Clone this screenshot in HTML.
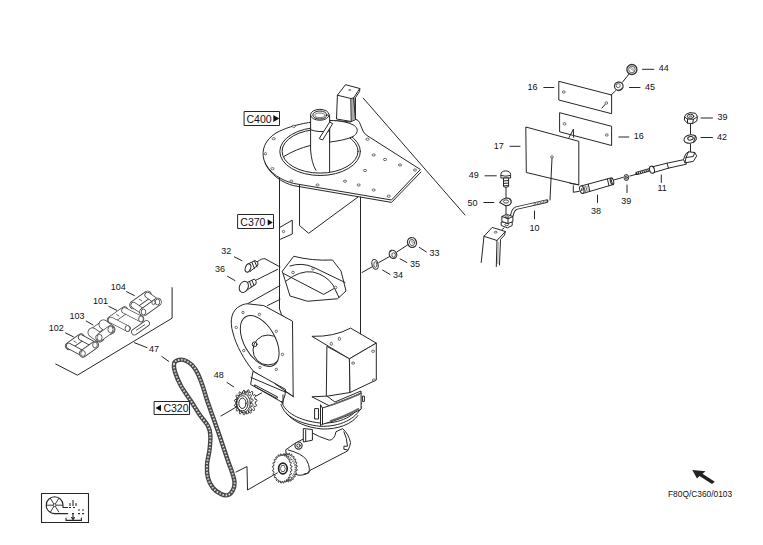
<!DOCTYPE html>
<html><head><meta charset="utf-8">
<style>
html,body{margin:0;padding:0;background:#fff;}
svg{display:block;}
text{font-family:"Liberation Sans",sans-serif;fill:#111;}
.l{fill:none;stroke:#262626;stroke-width:1;stroke-linejoin:round;stroke-linecap:round;}
.w{fill:#fff;stroke:#262626;stroke-width:1;stroke-linejoin:round;}
.h{fill:#fff;stroke:#333;stroke-width:0.7;}
.n{font-size:9.2px;}
</style></head><body>
<svg width="763" height="545" viewBox="0 0 763 545">
<!-- ===== TOWER ===== -->
<g id="tower">
<!-- body lines -->
<path class="l" d="M279.5,178 L279.5,309 Q280.5,315 284.5,317.5"/>
<path class="l" d="M299.5,184 L299.5,225.5 L308.7,233.3 L358,197"/>
<!-- flange -->
<path class="w" d="M264,160 C261,150 265,140 276,133 C292,124 322,118 350,122 L355.5,119.3 Q358.5,119.8 359.5,122.5 L363,131 Q364.5,134 367,135.5 L420.4,169.5 L391.5,200 L293.4,183.4 C283,181 268,173 264,160 Z"/>
<path class="l" d="M265,163 C270,175 283,183 293.4,185.6 L391.5,202.4 L421,172"/>
<!-- holes -->
<g class="h">
<ellipse cx="293.7" cy="126.3" rx="1.6" ry="1.1"/>
<ellipse cx="273.7" cy="138.7" rx="1.6" ry="1.1"/>
<ellipse cx="265.5" cy="153.7" rx="1.2" ry="1.1"/>
<ellipse cx="272.5" cy="168.7" rx="1.6" ry="1.1"/>
<ellipse cx="291.3" cy="181.2" rx="1.6" ry="1.1"/>
<ellipse cx="317.5" cy="185" rx="1.6" ry="1.1"/>
<ellipse cx="345" cy="181.2" rx="1.6" ry="1.1"/>
<ellipse cx="358.7" cy="185" rx="1.6" ry="1.1"/>
<ellipse cx="373.7" cy="190" rx="1.6" ry="1.1"/>
<ellipse cx="388.7" cy="196.2" rx="1.6" ry="1.1"/>
<ellipse cx="367.5" cy="139.2" rx="1.6" ry="1.1"/>
<ellipse cx="373.7" cy="155" rx="1.6" ry="1.1"/>
<ellipse cx="385" cy="159.5" rx="1.6" ry="1.1"/>
<ellipse cx="400" cy="165" rx="1.6" ry="1.1"/>
<ellipse cx="415" cy="170" rx="1.6" ry="1.1"/>
<ellipse cx="365" cy="170.5" rx="1.6" ry="1.1"/>
</g>
<!-- ring -->
<ellipse class="l" cx="320.1" cy="151.5" rx="40.3" ry="24"/>
<ellipse class="l" cx="320.1" cy="151.3" rx="38" ry="21.8"/>
<path class="l" d="M283.8,156.5 Q296,149 310.6,145.4"/>
<path class="w" d="M329.6,120.5 C340,120.5 351,122.5 355.5,126.5 C358.5,129.5 357.5,134 353,136.5 C347,139.5 338,141 329.6,142.1 Z"/>
<!-- pipe -->
<rect x="311" y="115" width="18.4" height="55" fill="#fff"/>
<path class="l" d="M310.6,115 L310.6,150 Q311.5,163 315.9,170.3"/>
<path class="l" d="M329.6,115 L329.6,171.6"/>
<path class="l" d="M310.6,129.7 Q318,132.8 329.6,131"/>
<ellipse class="w" cx="319.8" cy="114.8" rx="9.25" ry="5.45"/>
<ellipse class="l" cx="319.9" cy="115" rx="7.1" ry="4"/>
<ellipse class="l" cx="320" cy="115.3" rx="5.2" ry="2.3" style="stroke:#777"/>
<polygon class="w" points="319.2,138.6 322.6,140 332.7,123.5 329.7,122"/>
<!-- bracket -->
<path class="w" d="M337.4,95.2 L345.5,84.7 L359.8,88.5 L359.6,91.5 L355.5,97.5 L355.5,119.5 L351.2,121.5 L336.5,119 Z"/>
<path d="M351.3,99 L355,97.8 L355.2,119.2 L351.6,121 Z" fill="#aaa"/>
<path class="l" d="M337.4,95.2 L350.8,98.5 L353.6,98 L359.8,88.5 M350.8,98.5 L351.2,121.5 M353.6,98 L355.5,119.5"/>
<ellipse cx="349.8" cy="90" rx="1.5" ry="1.1" fill="#888"/>
<!-- long diagonal -->
<path class="l" d="M363.3,98.2 L465,215"/>
<!-- C400 -->
<rect class="l" x="244.5" y="111.5" width="35" height="14" style="stroke-width:1"/>
<text transform="translate(246.5 122.5) scale(0.9 1)" style="font-size:11.7px">C400</text>
<polygon points="273.3,115 279.3,118.5 273.3,122" fill="#111"/>
<!-- C370 -->
<rect class="l" x="238" y="214.5" width="35.5" height="14" style="stroke-width:1"/>
<text transform="translate(240.3 226.1) scale(0.9 1)" style="font-size:11.7px">C370</text>
<polygon points="267.7,219.2 272.8,222.4 267.7,225.6" fill="#111"/>
<!-- small plate -->
<path class="l" d="M279.8,227.4 L292.3,220.2 L292.3,234 L280.5,239.2"/>
<ellipse class="h" cx="283.5" cy="231.5" rx="1.2" ry="1.2"/>
<!-- window -->
<path class="l" d="M282.5,271 L293.75,256.25 Q312,261 332.5,260 L341,271 L346,291 L337.5,298.75 L307.5,301.25 L290,296 L285,280 Z"/>
<path class="l" d="M283.5,273.5 L323.7,294.4 L333.7,288.7"/>
<path class="l" d="M290,266 Q302,262 314,267.5 L345,282.5"/>
<path class="l" d="M286,281 Q300,270 313,272 Q326,275 333,285 L339,297.5"/>
<g class="h"><circle cx="293" cy="272.5" r="1.3"/><circle cx="313" cy="268.7" r="1.3"/><circle cx="335.6" cy="287.5" r="1.3"/></g>
</g>

<!-- ===== HOUSING (left) ===== -->
<g id="housing">
<path class="l" d="M247.5,303.8 L280,285.6 M267.5,305.6 L280,299.4"/>
<path class="w" d="M247.5,303.8 L263.8,305.6 L292.5,321.2 L293.2,396.5 L253.5,371.3 C244,360 236,345 233,333 C229,320 232,310 240,306 C243,304.5 245,303.8 247.5,303.8 Z"/>
<clipPath id="hclip"><ellipse cx="259.7" cy="341" rx="28" ry="15.5" transform="rotate(60 259.7 341)"/></clipPath>
<ellipse class="l" cx="259.7" cy="341" rx="28" ry="15.5" transform="rotate(60 259.7 341)"/>
<circle class="l" cx="268" cy="350" r="15" clip-path="url(#hclip)"/>
<circle class="l" cx="254.6" cy="344.3" r="2.4"/>
<g class="h">
<circle cx="243" cy="312.5" r="1.2"/><circle cx="259.4" cy="314.4" r="1.2"/><circle cx="236.3" cy="327.5" r="1.2"/>
<circle cx="276.3" cy="331.3" r="1.2"/><circle cx="243.8" cy="350.6" r="1.2"/><circle cx="282.5" cy="354.4" r="1.2"/>
<circle cx="260" cy="367.5" r="1.2"/><circle cx="276.3" cy="369.4" r="1.2"/>
</g>
<!-- bracket under housing -->
<path class="w" d="M253,371.3 L285.6,389.4 L285,395 L282.5,402.5 L250.6,384.4 Z"/>
<path class="l" d="M251,377.5 L285,391.9"/>
<path class="l" d="M255,385 L277.5,396.9 L277,398.5 L254.5,386.5 Z"/>
<path class="l" d="M283,395 L283,403.8"/>
</g>
<!-- ===== CHUTE BOX (right) ===== -->
<g id="chute">
<path class="w" d="M311.9,336.3 Q334,337 350.6,328.1 L376.3,343.1 L349.4,358.8 Z"/>
<path class="w" d="M326.9,346.3 L349.4,358.8 L350,392.5 L326.3,396.3 Z"/>
<path class="w" d="M349.4,358.8 L376.3,343.1 L376.3,380 L350,392.5 Z"/>
<path class="l" d="M360.5,197 L360.5,333.8"/>
<g class="h">
<ellipse cx="339.4" cy="338.8" rx="1.1" ry="1.6"/><ellipse cx="331.3" cy="343.8" rx="1.1" ry="1.6"/>
<ellipse cx="353.1" cy="363.1" rx="1.5" ry="1.1"/><ellipse cx="373.1" cy="351.3" rx="1.5" ry="1.1"/>
<ellipse cx="373.8" cy="380" rx="1.5" ry="1.1"/>
</g>
</g>
<!-- ===== BOWL ===== -->
<g id="bowl">
<path class="l" d="M281.5,401.5 C285,413 299,420.5 320,423 C340,424 356,416 361.5,403"/>
<path class="l" d="M281,404.5 C285,417 300,424 320,426.3 C340,427 356,419 361.5,407"/>
<path class="l" d="M286,413 C294,422.5 307,427.5 322,429 C338,429.5 352,424 358,415.5"/>
<path class="w" d="M311.9,396.8 L327,396.1 L334.9,402 L361,391 L361,393.5 L329.7,406 Z"/>
<path class="l" d="M293.8,396.9 L275,383.8"/>
<path class="w" d="M320.5,404.7 L322.5,408 Q345,401 361.1,392.9 L361.1,409.2 Q345,418 322.5,424.3 L320.5,425.6 Z"/>
<path class="l" d="M322.5,408 L322.5,424.3"/>
<path d="M330,405.5 Q346,400 360,394" fill="none" stroke="#666" stroke-width="1.6"/>
<path d="M330,421 Q346,416 359,408.5" fill="none" stroke="#666" stroke-width="1.8"/>
<rect class="w" x="314.6" y="408.6" width="3.9" height="10.4"/>
<rect class="w" x="362.4" y="396.1" width="2" height="5.3"/>
</g>
<!-- ===== GEARBOX ===== -->
<g id="gearbox">
<path class="w" d="M285.7,449.9 L294.2,443.8 L303.3,439 L312.4,433 Q318,436.5 329.3,440.2 Q334.5,440 336,431.7 L342.7,428.7 Q348.7,434 350.5,442.6 Q350,447 348.1,449.9 L347.5,451 L310,470.4 Q308,475 299,475.3 L288,472 Z"/>
<path class="w" d="M303.3,428.5 L312.4,429.5 L312.4,440.2 L303.3,442 Z"/>
<path class="l" d="M305.7,430 L305.7,441.5"/>
<path class="l" d="M288.2,449.9 Q301.5,453.5 306.3,459.5 Q309.4,465 309.4,469.2 L308.8,472.9 L303.9,474.1"/>
<path class="l" d="M343.9,431.7 Q347,438 347.5,446.2 L343.9,446.2 L343.9,449.3 L347.8,450"/>
<circle cx="298.5" cy="445.6" r="3.6" fill="#fff" stroke="#333" stroke-width="1.2"/><circle class="l" cx="298.5" cy="445.6" r="1.7"/>
</g>


<!-- ===== SPROCKETS ===== -->
<g id="sprockets">
<path class="w" d="M255.22,402.98 L255.14,403.64 C257.52,404.79 256.92,407.00 254.46,406.16 L254.02,407.12 L253.72,407.67 C255.46,409.98 254.15,411.66 252.23,409.57 L251.49,410.21 L251.03,410.54 C251.78,413.56 250.01,414.36 249.01,411.45 L248.13,411.63 L247.60,411.67 C247.22,414.80 245.34,414.57 245.46,411.41 L244.61,411.10 L244.11,410.85 C242.67,413.47 241.06,412.26 242.28,409.48 L241.61,408.73 L241.25,408.24 C239.04,409.83 238.02,407.87 240.08,406.02 L239.75,404.99 L239.59,404.35 C237.05,404.59 236.81,402.28 239.32,401.72 L239.38,400.62 L239.46,399.96 C237.08,398.81 237.68,396.60 240.14,397.44 L240.58,396.48 L240.88,395.93 C239.14,393.62 240.45,391.94 242.37,394.03 L243.11,393.39 L243.57,393.06 C242.82,390.04 244.59,389.24 245.59,392.15 L246.47,391.97 L247.00,391.93 C247.38,388.80 249.26,389.03 249.14,392.19 L249.99,392.50 L250.49,392.75 C251.93,390.13 253.54,391.34 252.32,394.12 L252.99,394.87 L253.35,395.36 C255.56,393.77 256.58,395.73 254.52,397.58 L254.85,398.61 L255.01,399.25 C257.55,399.01 257.79,401.32 255.28,401.88 L255.22,402.98 Z"/>
<path class="w" d="M251.63,402.80 L251.61,403.46 C254.04,404.26 253.66,406.54 251.19,406.06 L250.85,407.09 L250.61,407.68 C252.52,409.72 251.40,411.57 249.34,409.79 L248.68,410.52 L248.26,410.92 C249.28,413.81 247.63,414.87 246.39,412.13 L245.54,412.43 L245.02,412.56 C244.95,415.72 243.11,415.77 242.92,412.62 L242.06,412.43 L241.55,412.26 C240.40,415.07 238.72,414.11 239.64,411.17 L238.92,410.52 L238.52,410.09 C236.52,411.99 235.33,410.20 237.17,408.06 L236.75,407.09 L236.53,406.48 C234.08,407.09 233.63,404.83 236.02,403.91 L235.97,402.80 L235.99,402.14 C233.56,401.34 233.94,399.06 236.41,399.54 L236.75,398.51 L236.99,397.92 C235.08,395.88 236.20,394.03 238.26,395.81 L238.92,395.08 L239.34,394.68 C238.32,391.79 239.97,390.73 241.21,393.47 L242.06,393.17 L242.58,393.04 C242.65,389.88 244.49,389.83 244.68,392.98 L245.54,393.17 L246.05,393.34 C247.20,390.53 248.88,391.49 247.96,394.43 L248.68,395.08 L249.08,395.51 C251.08,393.61 252.27,395.40 250.43,397.54 L250.85,398.51 L251.07,399.12 C253.52,398.51 253.97,400.77 251.58,401.69 L251.63,402.80 Z"/>
<ellipse class="l" cx="243.3" cy="403" rx="7" ry="9.3"/>
<ellipse class="w" cx="242.4" cy="403.3" rx="5.6" ry="7.6"/>
<ellipse class="l" cx="242.4" cy="403.3" rx="3.6" ry="5.2"/>
<path class="l" d="M221,416 L237,406.6 M256,396 L261.6,393"/>
<path class="w" d="M296.14,468.27 L296.11,468.77 C297.72,469.40 297.53,470.97 295.87,470.74 L295.71,471.54 L295.59,472.01 C297.04,473.24 296.58,474.68 295.02,473.82 L294.72,474.54 L294.53,474.95 C295.71,476.69 295.01,477.90 293.65,476.48 L293.24,477.05 L292.98,477.38 C293.81,479.51 292.93,480.42 291.87,478.52 L291.37,478.92 L291.06,479.14 C291.49,481.51 290.48,482.05 289.78,479.81 L289.23,480.01 L288.90,480.10 C288.90,482.56 287.83,482.69 287.55,480.27 L286.98,480.25 L286.64,480.21 C286.21,482.58 285.15,482.30 285.31,479.85 L284.76,479.61 L284.44,479.44 C283.61,481.57 282.63,480.90 283.21,478.59 L282.73,478.15 L282.45,477.87 C281.27,479.61 280.45,478.58 281.42,476.58 L281.03,475.97 L280.81,475.59 C279.36,476.82 278.75,475.51 280.03,473.94 L279.76,473.21 L279.62,472.76 C278.01,473.39 277.64,471.90 279.16,470.87 L279.02,470.06 L278.96,469.57 C277.30,469.57 277.21,467.98 278.85,467.57 L278.86,466.73 L278.89,466.23 C277.28,465.60 277.47,464.03 279.13,464.26 L279.29,463.46 L279.41,462.99 C277.96,461.76 278.42,460.32 279.98,461.18 L280.28,460.46 L280.47,460.05 C279.29,458.31 279.99,457.10 281.35,458.52 L281.76,457.95 L282.02,457.62 C281.19,455.49 282.07,454.58 283.13,456.48 L283.63,456.08 L283.94,455.86 C283.51,453.49 284.52,452.95 285.22,455.19 L285.77,454.99 L286.10,454.90 C286.10,452.44 287.17,452.31 287.45,454.73 L288.02,454.75 L288.36,454.79 C288.79,452.42 289.85,452.70 289.69,455.15 L290.24,455.39 L290.56,455.56 C291.39,453.43 292.37,454.10 291.79,456.41 L292.27,456.85 L292.55,457.13 C293.73,455.39 294.55,456.42 293.58,458.42 L293.97,459.03 L294.19,459.41 C295.64,458.18 296.25,459.49 294.97,461.06 L295.24,461.79 L295.38,462.24 C296.99,461.61 297.36,463.10 295.84,464.13 L295.98,464.94 L296.04,465.43 C297.70,465.43 297.79,467.02 296.15,467.43 L296.14,468.27 Z"/>
<path d="M286,455 Q294,459 295.5,468 Q294,478 287,481" fill="none" stroke="#666" stroke-width="1.6" stroke-dasharray="1.2 1"/>
<path class="w" d="M290.85,468.50 L290.85,469.01 C292.48,469.51 292.35,471.12 290.69,471.04 L290.56,471.87 L290.46,472.36 C291.95,473.48 291.55,474.99 289.96,474.26 L289.69,475.01 L289.52,475.45 C290.76,477.11 290.12,478.41 288.70,477.08 L288.32,477.71 L288.07,478.06 C288.99,480.15 288.14,481.16 287.01,479.33 L286.53,479.78 L286.23,480.02 C286.76,482.40 285.77,483.04 284.98,480.83 L284.44,481.08 L284.11,481.20 C284.21,483.70 283.14,483.93 282.77,481.49 L282.20,481.52 L281.86,481.51 C281.53,483.97 280.46,483.78 280.51,481.27 L279.96,481.08 L279.63,480.93 C278.89,483.18 277.89,482.58 278.37,480.18 L277.87,479.78 L277.58,479.51 C276.48,481.39 275.61,480.42 276.50,478.29 L276.08,477.71 L275.85,477.34 C274.46,478.72 273.79,477.45 275.01,475.73 L274.71,475.01 L274.54,474.56 C272.96,475.36 272.54,473.86 274.01,472.69 L273.84,471.87 L273.76,471.37 C272.10,471.52 271.94,469.92 273.57,469.35 L273.55,468.50 L273.55,467.99 C271.92,467.49 272.05,465.88 273.71,465.96 L273.84,465.13 L273.94,464.64 C272.45,463.52 272.85,462.01 274.44,462.74 L274.71,461.99 L274.88,461.55 C273.64,459.89 274.28,458.59 275.70,459.92 L276.08,459.29 L276.33,458.94 C275.41,456.85 276.26,455.84 277.39,457.67 L277.87,457.22 L278.17,456.98 C277.64,454.60 278.63,453.96 279.42,456.17 L279.96,455.92 L280.29,455.80 C280.19,453.30 281.26,453.07 281.63,455.51 L282.20,455.48 L282.54,455.49 C282.87,453.03 283.94,453.22 283.89,455.73 L284.44,455.92 L284.77,456.07 C285.51,453.82 286.51,454.42 286.03,456.82 L286.53,457.22 L286.82,457.49 C287.92,455.61 288.79,456.58 287.90,458.71 L288.32,459.29 L288.55,459.66 C289.94,458.28 290.61,459.55 289.39,461.27 L289.69,461.99 L289.86,462.44 C291.44,461.64 291.86,463.14 290.39,464.31 L290.56,465.13 L290.64,465.63 C292.30,465.48 292.46,467.08 290.83,467.65 L290.85,468.50 Z"/>
<ellipse cx="282.9" cy="468.5" rx="4.3" ry="5.4" fill="#fff" stroke="#222" stroke-width="1.7"/>
<path d="M281.5,465.5 L284.2,465.5 L285.3,468.5 L284.2,471.5 L281.5,471.5 L280.4,468.5 Z" fill="none" stroke="#555" stroke-width="0.9"/>
</g>
<!-- ===== CHAIN ===== -->
<g id="chain">
<path d="M174,364 C173.7,365.9 173.8,368.3 175,372 C176.2,375.7 178.2,381.0 181,386 C183.8,391.0 188.5,397.2 191.6,402 C194.7,406.8 197.0,410.7 199.7,414.7 C202.4,418.7 206.2,422.6 208,426 C209.8,429.4 210.1,431.0 210.3,435 C210.6,439.0 210.1,445.0 209.5,450 C208.9,455.0 207.2,460.3 207,465 C206.8,469.7 207.0,474.2 208,478 C209.0,481.8 210.8,485.3 213,488 C215.2,490.7 218.5,492.8 221,494 C223.5,495.2 226.0,495.7 228,495 C230.0,494.3 231.9,492.2 233,490 C234.1,487.8 234.7,485.0 234.5,482 C234.3,479.0 233.1,475.5 232,472 C230.9,468.5 229.8,466.3 228,461 C226.2,455.7 222.9,445.6 221,440 C219.1,434.4 218.1,431.4 216.6,427.2 C215.1,423.0 213.8,419.2 212.2,414.7 C210.6,410.2 208.5,404.6 207,400 C205.5,395.4 204.5,391.3 203,387 C201.5,382.7 199.8,377.7 198,374 C196.2,370.3 194.3,367.3 192,365 C189.7,362.7 186.5,360.8 184,360 C181.5,359.2 178.7,359.8 177,360.5 C175.3,361.2 174.3,362.1 174,364 Z" fill="none" stroke="#444" stroke-width="4.4"/>
<path d="M174,364 C173.7,365.9 173.8,368.3 175,372 C176.2,375.7 178.2,381.0 181,386 C183.8,391.0 188.5,397.2 191.6,402 C194.7,406.8 197.0,410.7 199.7,414.7 C202.4,418.7 206.2,422.6 208,426 C209.8,429.4 210.1,431.0 210.3,435 C210.6,439.0 210.1,445.0 209.5,450 C208.9,455.0 207.2,460.3 207,465 C206.8,469.7 207.0,474.2 208,478 C209.0,481.8 210.8,485.3 213,488 C215.2,490.7 218.5,492.8 221,494 C223.5,495.2 226.0,495.7 228,495 C230.0,494.3 231.9,492.2 233,490 C234.1,487.8 234.7,485.0 234.5,482 C234.3,479.0 233.1,475.5 232,472 C230.9,468.5 229.8,466.3 228,461 C226.2,455.7 222.9,445.6 221,440 C219.1,434.4 218.1,431.4 216.6,427.2 C215.1,423.0 213.8,419.2 212.2,414.7 C210.6,410.2 208.5,404.6 207,400 C205.5,395.4 204.5,391.3 203,387 C201.5,382.7 199.8,377.7 198,374 C196.2,370.3 194.3,367.3 192,365 C189.7,362.7 186.5,360.8 184,360 C181.5,359.2 178.7,359.8 177,360.5 C175.3,361.2 174.3,362.1 174,364 Z" fill="none" stroke="#fff" stroke-width="1.8" stroke-dasharray="1.4 1.8"/>
<path d="M174,364 C173.7,365.9 173.8,368.3 175,372 C176.2,375.7 178.2,381.0 181,386 C183.8,391.0 188.5,397.2 191.6,402 C194.7,406.8 197.0,410.7 199.7,414.7 C202.4,418.7 206.2,422.6 208,426 C209.8,429.4 210.1,431.0 210.3,435 C210.6,439.0 210.1,445.0 209.5,450 C208.9,455.0 207.2,460.3 207,465 C206.8,469.7 207.0,474.2 208,478 C209.0,481.8 210.8,485.3 213,488 C215.2,490.7 218.5,492.8 221,494 C223.5,495.2 226.0,495.7 228,495 C230.0,494.3 231.9,492.2 233,490 C234.1,487.8 234.7,485.0 234.5,482 C234.3,479.0 233.1,475.5 232,472 C230.9,468.5 229.8,466.3 228,461 C226.2,455.7 222.9,445.6 221,440 C219.1,434.4 218.1,431.4 216.6,427.2 C215.1,423.0 213.8,419.2 212.2,414.7 C210.6,410.2 208.5,404.6 207,400 C205.5,395.4 204.5,391.3 203,387 C201.5,382.7 199.8,377.7 198,374 C196.2,370.3 194.3,367.3 192,365 C189.7,362.7 186.5,360.8 184,360 C181.5,359.2 178.7,359.8 177,360.5 C175.3,361.2 174.3,362.1 174,364 Z" fill="none" stroke="#888" stroke-width="0.5"/>
</g>
<!-- leader zigzag -->
<path class="l" d="M236,472 L247,466.5 L247.5,490 L277.3,472.9"/>
<!-- ===== BOLTS 32/36 ===== -->
<g id="bolts">
<path class="l" d="M257,262 Q262,258 265,258.8 L280,266.9"/>
<path class="w" d="M248,264 L255,260.5 Q259,262 258,265 L250,271.5 Z"/>
<path class="l" d="M252,262.5 L254.5,268.5 M254.5,261 L257,267"/>
<ellipse class="w" cx="248" cy="268" rx="2.6" ry="4.3" transform="rotate(20 248 268)"/>
<path class="l" d="M256.3,280 L277.5,269.4"/>
<path class="w" d="M245,283.5 L254.5,279 Q257,281.5 256,284 L247,290 Z"/>
<path class="l" d="M249.5,281.5 L251.5,287 M252,280.5 L254,285.5"/>
<ellipse class="w" cx="243.8" cy="286.9" rx="4.3" ry="5.8" transform="rotate(25 243.8 286.9)"/>
</g>
<!-- ===== 33/34/35 ===== -->
<g id="nuts33">
<path class="l" d="M362,272.5 L371.9,266.9 M378.8,262.5 L390,256.3 M396.9,251.9 L407.5,245"/>
<ellipse cx="412" cy="242.5" rx="4.4" ry="5" transform="rotate(-20 412 242.5)" fill="#fff" stroke="#333" stroke-width="1.3"/>
<ellipse cx="412" cy="242.5" rx="2.6" ry="3.1" transform="rotate(-20 412 242.5)" fill="none" stroke="#555" stroke-width="0.9"/>
<path d="M410.5,240.5 L413.5,244.5 M411.5,239.8 L414.2,243.2" stroke="#777" stroke-width="0.7"/>
<ellipse cx="393" cy="254.4" rx="3.6" ry="4.2" transform="rotate(-30 393 254.4)" fill="#fff" stroke="#333" stroke-width="1.2"/>
<ellipse cx="393.6" cy="255" rx="1.8" ry="2.2" fill="none" stroke="#444" stroke-width="0.9"/>
<path d="M389.5,251.5 L392,250" stroke="#333" stroke-width="1.2"/>
<ellipse cx="375" cy="264.4" rx="3" ry="5" transform="rotate(-15 375 264.4)" fill="#fff" stroke="#333" stroke-width="1.1"/>
<ellipse cx="375.3" cy="264.6" rx="1.5" ry="2.8" fill="none" stroke="#444" stroke-width="0.9"/>
</g>


<!-- ===== LABELS (tower area) ===== -->
<g class="n">
<text transform="translate(221.2 253.8) scale(0.98 1)">32</text>
<text transform="translate(215 272.3) scale(0.98 1)">36</text>
<text transform="translate(429.4 256.3) scale(0.98 1)">33</text>
<text transform="translate(410 266.5) scale(0.98 1)">35</text>
<text transform="translate(393.1 277.8) scale(0.98 1)">34</text>
<text transform="translate(213.8 378) scale(0.98 1)">48</text>
<text transform="translate(149 351.6) scale(0.98 1)">47</text>
</g>
<path class="l" d="M234.4,256.9 L241.9,260.6 M227.5,276.3 L235,280.6 M419.4,247.5 L426.3,251.9 M400,258.8 L406.9,262.5 M382.5,270 L390,274.4 M227,382.5 L233.8,386.9"/>
<!-- C320 -->
<rect class="l" x="154.5" y="401.5" width="35" height="13" style="stroke-width:1"/>
<polygon points="161,404.8 155.5,408 161,411.2" fill="#111"/>
<text transform="translate(163.4 412) scale(0.9 1)" style="font-size:11.7px">C320</text>
<!-- ===== LEFT CHAIN PARTS ===== -->
<path class="l" d="M172.1,287.7 L172.1,318.2 L77.4,375.2 L55.7,364"/>
<g class="n">
<text transform="translate(110.8 289.7) scale(0.98 1)">104</text>
<text transform="translate(93 304.4) scale(0.98 1)">101</text>
<text transform="translate(69.5 319) scale(0.98 1)">103</text>
<text transform="translate(48.8 331) scale(0.98 1)">102</text>
</g>
<path class="l" d="M126.5,291.6 L134.4,295.6 M108.8,306.4 L116.7,310.3 M86.2,321 L93,325 M65.6,333 L73.4,336.8 M134.4,342.7 L147,347.6 M161.9,356.5 L168.8,361.4"/>

<g id="links"><path d="M69,346 L81,337.5" stroke="#3a3a3a" stroke-width="7.90" stroke-linecap="round" fill="none"/><path d="M69,346 L81,337.5" stroke="#fff" stroke-width="6.4" stroke-linecap="round" fill="none"/><path d="M73.5,340.75 L76.5,342.75" stroke="#3a3a3a" stroke-width="0.8"/><path d="M81,337.5 L95,345.0" stroke="#3a3a3a" stroke-width="6.10" stroke-linecap="round" fill="none"/><path d="M81,337.5 L95,345.0" stroke="#fff" stroke-width="4.6" stroke-linecap="round" fill="none"/><path d="M69,346 L83,353.5" stroke="#3a3a3a" stroke-width="6.10" stroke-linecap="round" fill="none"/><path d="M69,346 L83,353.5" stroke="#fff" stroke-width="4.6" stroke-linecap="round" fill="none"/><path d="M83,353.5 L95,345.0" stroke="#3a3a3a" stroke-width="7.90" stroke-linecap="round" fill="none"/><path d="M83,353.5 L95,345.0" stroke="#fff" stroke-width="6.4" stroke-linecap="round" fill="none"/><ellipse cx="83" cy="353.5" rx="2.32" ry="2.9" fill="#fff" stroke="#3a3a3a" stroke-width="0.8"/><ellipse cx="95" cy="345.0" rx="2.32" ry="2.9" fill="#fff" stroke="#3a3a3a" stroke-width="0.8"/><path d="M92.5,332.5 L103.5,324.5" stroke="#3a3a3a" stroke-width="8.30" stroke-linecap="round" fill="none"/><path d="M92.5,332.5 L103.5,324.5" stroke="#fff" stroke-width="6.8" stroke-linecap="round" fill="none"/><path d="M103.5,324.5 L110.5,329.5" stroke="#3a3a3a" stroke-width="9.90" stroke-linecap="round" fill="none"/><path d="M103.5,324.5 L110.5,329.5" stroke="#fff" stroke-width="8.4" stroke-linecap="round" fill="none"/><path d="M92.5,332.5 L99.5,337.5" stroke="#3a3a3a" stroke-width="9.90" stroke-linecap="round" fill="none"/><path d="M92.5,332.5 L99.5,337.5" stroke="#fff" stroke-width="8.4" stroke-linecap="round" fill="none"/><path d="M99.5,337.5 L110.5,329.5" stroke="#3a3a3a" stroke-width="8.30" stroke-linecap="round" fill="none"/><path d="M99.5,337.5 L110.5,329.5" stroke="#fff" stroke-width="6.8" stroke-linecap="round" fill="none"/><ellipse cx="99.5" cy="337.5" rx="2.56" ry="3.2" fill="#fff" stroke="#3a3a3a" stroke-width="0.8"/><ellipse cx="110.5" cy="329.5" rx="2.56" ry="3.2" fill="#fff" stroke="#3a3a3a" stroke-width="0.8"/><path d="M111,320 L124.5,310.5" stroke="#3a3a3a" stroke-width="8.10" stroke-linecap="round" fill="none"/><path d="M111,320 L124.5,310.5" stroke="#fff" stroke-width="6.6" stroke-linecap="round" fill="none"/><path d="M116.25,314.25 L119.25,316.25" stroke="#3a3a3a" stroke-width="0.8"/><path d="M124.5,310.5 L141.0,319.0" stroke="#3a3a3a" stroke-width="6.30" stroke-linecap="round" fill="none"/><path d="M124.5,310.5 L141.0,319.0" stroke="#fff" stroke-width="4.8" stroke-linecap="round" fill="none"/><path d="M111,320 L127.5,328.5" stroke="#3a3a3a" stroke-width="6.30" stroke-linecap="round" fill="none"/><path d="M111,320 L127.5,328.5" stroke="#fff" stroke-width="4.8" stroke-linecap="round" fill="none"/><ellipse cx="127.5" cy="328.5" rx="2.4" ry="3.0" fill="#fff" stroke="#3a3a3a" stroke-width="0.8"/><ellipse cx="141.0" cy="319.0" rx="2.4" ry="3.0" fill="#fff" stroke="#3a3a3a" stroke-width="0.8"/><path d="M134.5,332 L146.5,323.5" stroke="#3a3a3a" stroke-width="6.70" stroke-linecap="round" fill="none"/><path d="M134.5,332 L146.5,323.5" stroke="#fff" stroke-width="5.2" stroke-linecap="round" fill="none"/><path d="M136,330.5 L145,324.5" stroke="#3a3a3a" stroke-width="0.8" fill="none"/><path d="M133.5,305 L147.5,295" stroke="#3a3a3a" stroke-width="8.50" stroke-linecap="round" fill="none"/><path d="M133.5,305 L147.5,295" stroke="#fff" stroke-width="7.0" stroke-linecap="round" fill="none"/><path d="M139.0,299.0 L142.0,301.0" stroke="#3a3a3a" stroke-width="0.8"/><path d="M147.5,295 L157.5,302" stroke="#3a3a3a" stroke-width="6.10" stroke-linecap="round" fill="none"/><path d="M147.5,295 L157.5,302" stroke="#fff" stroke-width="4.6" stroke-linecap="round" fill="none"/><path d="M133.5,305 L143.5,312" stroke="#3a3a3a" stroke-width="6.10" stroke-linecap="round" fill="none"/><path d="M133.5,305 L143.5,312" stroke="#fff" stroke-width="4.6" stroke-linecap="round" fill="none"/><path d="M143.5,312 L157.5,302" stroke="#3a3a3a" stroke-width="8.50" stroke-linecap="round" fill="none"/><path d="M143.5,312 L157.5,302" stroke="#fff" stroke-width="7.0" stroke-linecap="round" fill="none"/><ellipse cx="143.5" cy="312" rx="2.32" ry="2.9" fill="#fff" stroke="#3a3a3a" stroke-width="0.8"/><ellipse cx="157.5" cy="302" rx="2.32" ry="2.9" fill="#fff" stroke="#3a3a3a" stroke-width="0.8"/><ellipse cx="153.5" cy="302.5" rx="1.6" ry="2.2" fill="#fff" stroke="#3a3a3a" stroke-width="0.8"/></g>

<!-- ===== RIGHT ASSEMBLY ===== -->
<g id="right">
<!-- plate 16 upper -->
<path class="w" d="M558.8,81.3 L611.6,95 L611.6,113.7 L558.8,100 Z"/>
<g class="h"><ellipse cx="563.8" cy="92" rx="1.4" ry="1.2"/><ellipse cx="606.3" cy="103" rx="1.4" ry="1.2"/></g>
<path class="l" d="M605,104.5 L602,108"/>
<!-- plate 16 lower -->
<path class="w" d="M559.6,112.7 L611.6,126.3 L611.6,145.5 L559.6,131.8 Z"/>
<g class="h"><ellipse cx="564.5" cy="123.8" rx="1.4" ry="1.2"/><ellipse cx="606.8" cy="135" rx="1.4" ry="1.2"/></g>
<!-- plate 17 -->
<path class="w" d="M525.8,127 L578.8,141.3 L578.8,185 L526.3,172.5 Z"/>
<ellipse class="h" cx="552" cy="157" rx="1.3" ry="1.2"/>
<path class="l" d="M573.3,129.5 L573.6,137.3 M573.3,129.5 L569,137.5"/>
<path class="l" d="M552,158.5 L550,200"/>
<path class="l" d="M573.3,185.7 L573.3,192.3 L579.2,191.3 M570,183.4 L578.5,184.7"/>
<!-- labels -->
<g class="n">
<text transform="translate(527.5 90) scale(0.98 1)">16</text>
<text transform="translate(633.8 138.8) scale(0.98 1)">16</text>
<text transform="translate(493.8 148.8) scale(0.98 1)">17</text>
<text transform="translate(658.8 71.3) scale(0.98 1)">44</text>
<text transform="translate(645 90) scale(0.98 1)">45</text>
<text transform="translate(717.5 120) scale(0.98 1)">39</text>
<text transform="translate(717 140) scale(0.98 1)">42</text>
<text transform="translate(657.5 191.3) scale(0.98 1)">11</text>
<text transform="translate(621.3 203.8) scale(0.98 1)">39</text>
<text transform="translate(591 213.8) scale(0.98 1)">38</text>
<text transform="translate(468.8 178) scale(0.98 1)">49</text>
<text transform="translate(467.5 205.5) scale(0.98 1)">50</text>
<text transform="translate(529.5 230.5) scale(0.98 1)">10</text>
</g>
<path class="l" d="M543.8,87.5 L553.8,87.5 M618.8,137 L628.8,137 M510,146.3 L520,146.3 M642.5,69.3 L653.8,69.3 M629.5,87.5 L640,87.5 M701,118 L712.5,118 M701,137.5 L712.5,137.5 M661.3,175 L661.3,182.5 M627,185 L627,192.5 M597.5,195 L597.5,202.5 M485,175.8 L496.3,175.8 M483.8,202.5 L493.8,202.5 M534.5,211 L534.5,218.8"/>
<!-- nut 44, washer 45 -->
<path class="l" d="M629,74 L622.4,82.3 M615.7,90.5 L611.3,95"/>
<circle cx="631.9" cy="69.5" r="5" fill="#fff" stroke="#333" stroke-width="1.3"/>
<circle cx="631.9" cy="69.5" r="3.3" fill="none" stroke="#555" stroke-width="0.9"/>
<path d="M629.8,67.5 L634,71.5 M631,66.8 L634.6,70.3" stroke="#777" stroke-width="0.8"/>
<ellipse cx="618.8" cy="86.2" rx="4.3" ry="4.1" fill="#fff" stroke="#333" stroke-width="1.2"/>
<path d="M622.5,87.5 Q621,91 617,90.5" fill="none" stroke="#444" stroke-width="1.2"/>
<circle cx="618.2" cy="85.6" r="2" fill="none" stroke="#555" stroke-width="0.9"/>
<!-- nut 39 hex, washer 42 -->
<path class="l" d="M690.5,124.3 L690.5,134 M690.5,144.2 L690.5,151.8"/>
<path class="w" d="M686,114.3 L690,112.6 L695.5,113.3 L697.4,116.5 L696.8,121 L692.5,123.6 L687.5,123.2 L684.4,120 L684.6,116.8 Z"/>
<path class="l" d="M684.6,117 L687.5,119 L693.5,119.3 L697.2,116.8 M687.5,119 L687.5,123.2 M693.5,119.3 L692.5,123.6"/>
<ellipse class="l" cx="690.6" cy="116.3" rx="3.2" ry="2.1"/>
<ellipse cx="690.6" cy="116.3" rx="1.8" ry="1.1" fill="#888"/>
<ellipse class="w" cx="690.2" cy="139" rx="6.3" ry="4.2" transform="rotate(-12 690.2 139)"/>
<ellipse class="l" cx="690.5" cy="138.3" rx="2.8" ry="1.8" transform="rotate(-12 690.5 138.3)"/>
<path class="l" d="M693.5,142.5 L695.5,135.8"/>
<!-- rod 11 -->
<path class="w" d="M652,166.9 L667,163.2 L685,159.4 L686.4,164.2 L669,168 L654,172.4 Z"/>
<path class="l" d="M667,163.2 L668.5,168.2"/>
<path class="w" d="M685.7,153.9 L688.5,151.8 L694.7,152.5 L696.7,155.9 L693.3,161.4 L685,162.8 L683.5,159.5 Z"/>
<path class="l" d="M688.5,151.8 L686,157.5 L693.3,156.5 L694.7,152.5 M686,157.5 L685,162.8"/>
<path d="M637,173.3 L651,169.3" stroke="#262626" stroke-width="3.4" stroke-linecap="round" fill="none"/>
<path d="M637,173.3 L651,169.3" stroke="#fff" stroke-width="1.6" stroke-dasharray="1 1" fill="none"/>
<ellipse class="w" cx="652" cy="169.7" rx="2.4" ry="3.6" transform="rotate(-15 652 169.7)"/>
<!-- washer 39 small -->
<path class="l" d="M613.8,180 L622.5,177.5 M630,176 L637.5,174"/>
<ellipse class="w" cx="626.3" cy="177.5" rx="2.4" ry="3"/>
<ellipse class="l" cx="626.3" cy="177.5" rx="1" ry="1.5"/>
<!-- sleeve 38 -->
<path class="w" d="M581.8,185.8 L610.6,178 L612.6,184.7 L583.1,193.4 Z"/>
<path d="M582.5,189.6 L588,188" stroke="#555" stroke-width="6" stroke-dasharray="0.9 0.9" fill="none"/>
<path class="l" d="M588.3,184.3 L589.8,191.2 M607.4,179 L609,185.8"/>
<ellipse class="w" cx="581.8" cy="189.7" rx="2" ry="3.9" transform="rotate(-15 581.8 189.7)"/>
<ellipse cx="581.8" cy="189.7" rx="0.8" ry="1.6" fill="#444"/>
<ellipse class="l" cx="612" cy="181.3" rx="1.6" ry="3.5" transform="rotate(-15 612 181.3)"/>
<!-- bolt 49 -->
<path class="w" d="M500.9,178 L500.9,174.5 Q501,171 505.7,170.9 Q510.5,171 510.6,174.5 L510.6,178 Z"/>
<path class="l" d="M501,175.5 Q505.7,177 510.5,175.5"/>
<path class="w" d="M503.5,178 L508.6,178 L508.6,186.5 L506,187.5 L503.5,186.5 Z"/>
<path class="l" d="M503.5,181 L508.6,180.5 M503.5,183.5 L508.6,183 M503.5,186 L508.6,185.5"/>
<path class="l" d="M506,188.3 L506,198 M506,206.3 L506,215.3"/>
<!-- washer 50 -->
<path d="M499.8,202.5 Q502,198.5 507,198 Q511.5,198.5 511.2,202.5 Q510,206 505.5,205.7 Z" fill="#fff" stroke="#333" stroke-width="1.2"/>
<ellipse cx="506" cy="201.5" rx="2.6" ry="1.6" fill="none" stroke="#444" stroke-width="1"/>
<!-- rod 10 -->
<path d="M546.6,201.2 L516.3,208.1 Q513,209.5 512.2,214.3 L510.5,217.5" stroke="#2a2a2a" stroke-width="3.6" stroke-linecap="round" fill="none"/>
<path d="M546.6,201.2 L516.3,208.1 Q513,209.5 512.2,214.3 L510.5,217.5" stroke="#fff" stroke-width="1.7" fill="none"/>
<path d="M545.5,201.5 L533,204.4" stroke="#666" stroke-width="2" stroke-dasharray="0.8 0.8" fill="none"/>
<!-- clamp -->
<path class="w" d="M501.2,222 L501.2,225.5 L507.5,227.8 L512.2,225.5 L512.2,222 Z"/>
<ellipse cx="506.7" cy="224.5" rx="1.8" ry="1.1" fill="none" stroke="#333" stroke-width="0.9"/>
<path class="w" d="M501.9,216.5 L506.5,214.3 L512.9,216.5 L512.9,221.5 L508,223.5 L501.9,221.5 Z"/>
<path class="l" d="M501.9,216.5 L508,218.8 L512.9,216.5 M508,218.8 L508,223.5"/>
<ellipse cx="507" cy="216.8" rx="1.8" ry="1" fill="none" stroke="#333" stroke-width="0.9"/>
<path class="l" d="M504,228 L502,229.5"/>
<!-- bracket under -->
<path class="l" d="M481.2,262.5 L484,236.3 L492.2,227.4 L505.3,231.5 L504.6,235 L500.5,239.5 L499.5,265"/>
<path class="l" d="M484,236.3 L497,240.5 L505.3,231.5 M497,240.5 L496.3,266.6"/>
<path d="M498.2,242 L497.8,264" stroke="#999" stroke-width="1"/>
<ellipse cx="495.7" cy="232.2" rx="1.4" ry="1" fill="#fff" stroke="#444" stroke-width="0.8"/>
</g>
<!-- ===== ICON ===== -->
<g id="icon">
<rect class="l" x="41.5" y="493.5" width="47" height="29" style="stroke-width:1.1"/>
<path class="l" d="M54.6,513.6 A8.4,8.4 0 1 1 63,505.2 L63,507.5 L67.7,507.5" style="stroke-width:1.1"/>
<path class="l" d="M54.6,513.6 L67.7,513.6" style="stroke-width:1.1"/>
<path class="l" d="M46.5,505.2 L62.5,505.2 M50.5,498.5 L58.7,511.9 M58.7,498.5 L50.5,511.9" style="stroke-width:0.9"/>
<circle cx="54.6" cy="505.2" r="1.4" fill="#fff" stroke="#2a2a2a" stroke-width="0.8"/>
<path d="M73,500 L73,506 M70,503 L70,506 M76,503 L76,506 M69,507.5 L71,507.5 M73,507.5 L75,507.5 M78,510 L80,510 M78,513.6 L80,513.6 M82,510 L84,510 M82,513.6 L84,513.6 M72,513.6 L74,513.6" stroke="#2a2a2a" stroke-width="1.1" fill="none"/>
<path class="l" d="M73,514.6 L73,519 M71.5,517.5 L73,519.5 L74.5,517.5 M66,518 L66,520.4 L81.4,520.4 L81.4,518" style="stroke-width:1.1"/>
</g>
<!-- ===== ARROW + REF ===== -->
<path d="M692.3,470 L705.6,471.2 L702.5,473.8 L714.8,481.8 L712,484 L699.5,476 L697,478.5 Z" fill="#222"/>
<text transform="translate(668 496.7) scale(0.95 1)" style="font-size:8.8px">F80Q/C360/0103</text>

</svg>
</body></html>
